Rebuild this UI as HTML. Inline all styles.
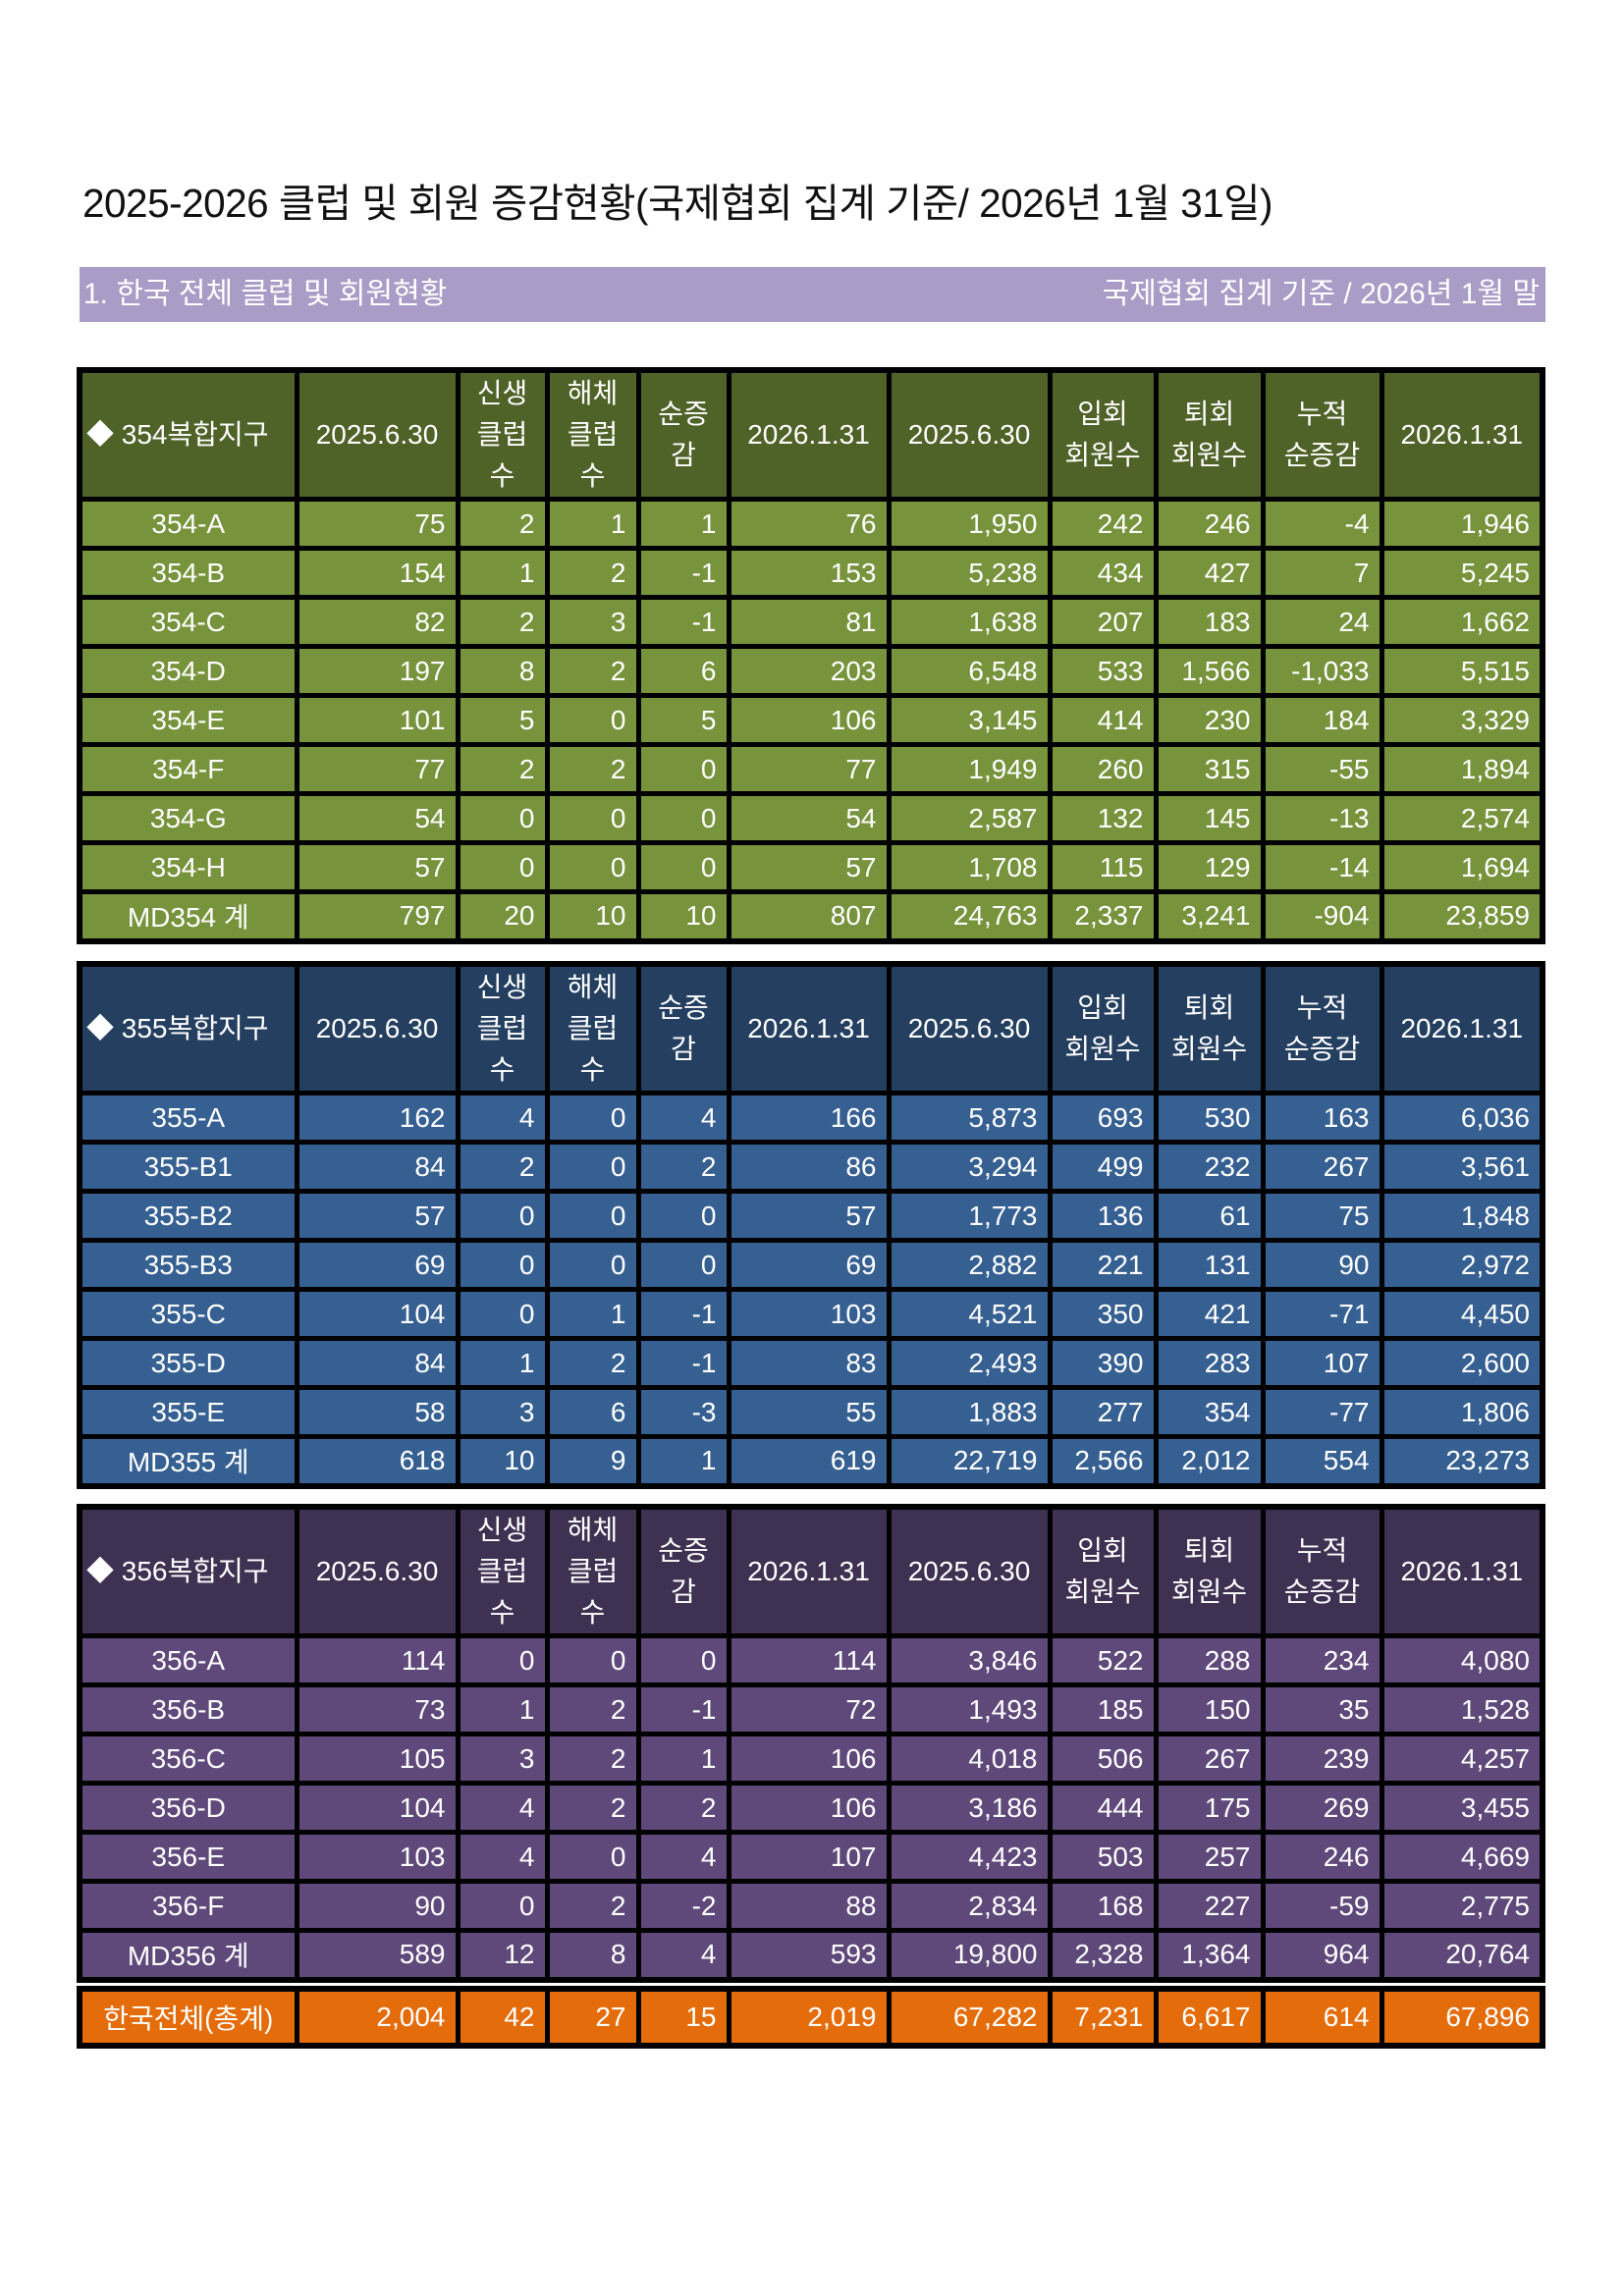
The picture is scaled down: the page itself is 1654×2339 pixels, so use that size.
<!DOCTYPE html>
<html><head><meta charset="utf-8">
<style>
body{margin:0;width:1654px;height:2339px;background:#fff;position:relative;font-family:"Liberation Sans","Noto Sans CJK KR",sans-serif;overflow:hidden}
.title{position:absolute;left:84px;top:174px;font-size:40.5px;color:#111;white-space:nowrap;letter-spacing:-0.5px}
.band{position:absolute;left:81px;top:272px;width:1493px;height:56px;background:#a99cc6;color:#fff;font-size:30px;line-height:56px}
.band .l{position:absolute;left:4px}
.band .r{position:absolute;right:6px}
table{position:absolute;left:78px;width:1490px;border-collapse:collapse;table-layout:fixed;border:6px solid #000;color:#fff;font-size:28px}
td{border:5px solid #000;padding:0 10px;text-align:right;white-space:nowrap;overflow:hidden}
td:first-child{text-align:center}
tr.h td{text-align:center;line-height:42px;padding:0 2px}
tr.h td:first-child{text-align:left;padding-left:4px}
.g tr.h td{background:#4f6228}.g td{background:#77933c}
.b tr.h td{background:#243f60}.b td{background:#366092}
.p tr.h td{background:#3f3151}.p td{background:#5f497a}
.o td{background:#e46c0a}
</style></head><body>
<div class="title">2025-2026 클럽 및 회원 증감현황(국제협회 집계 기준/ 2026년 1월 31일)</div>
<div class="band"><span class="l">1. 한국 전체 클럽 및 회원현황</span><span class="r">국제협회 집계 기준 / 2026년 1월 말</span></div>

<table class="g" style="top:374px">
<colgroup><col style="width:221px"><col style="width:164px"><col style="width:91px"><col style="width:93px"><col style="width:92px"><col style="width:163px"><col style="width:164px"><col style="width:108px"><col style="width:109px"><col style="width:121px"><col style="width:164px"></colgroup>
<tr class="h" style="height:129px"><td>◆ 354복합지구</td><td>2025.6.30</td><td>신생<br>클럽<br>수</td><td>해체<br>클럽<br>수</td><td>순증<br>감</td><td>2026.1.31</td><td>2025.6.30</td><td>입회<br>회원수</td><td>퇴회<br>회원수</td><td>누적<br>순증감</td><td>2026.1.31</td></tr>
<tr style="height:50px"><td>354-A</td><td>75</td><td>2</td><td>1</td><td>1</td><td>76</td><td>1,950</td><td>242</td><td>246</td><td>-4</td><td>1,946</td></tr>
<tr style="height:50px"><td>354-B</td><td>154</td><td>1</td><td>2</td><td>-1</td><td>153</td><td>5,238</td><td>434</td><td>427</td><td>7</td><td>5,245</td></tr>
<tr style="height:50px"><td>354-C</td><td>82</td><td>2</td><td>3</td><td>-1</td><td>81</td><td>1,638</td><td>207</td><td>183</td><td>24</td><td>1,662</td></tr>
<tr style="height:50px"><td>354-D</td><td>197</td><td>8</td><td>2</td><td>6</td><td>203</td><td>6,548</td><td>533</td><td>1,566</td><td>-1,033</td><td>5,515</td></tr>
<tr style="height:50px"><td>354-E</td><td>101</td><td>5</td><td>0</td><td>5</td><td>106</td><td>3,145</td><td>414</td><td>230</td><td>184</td><td>3,329</td></tr>
<tr style="height:50px"><td>354-F</td><td>77</td><td>2</td><td>2</td><td>0</td><td>77</td><td>1,949</td><td>260</td><td>315</td><td>-55</td><td>1,894</td></tr>
<tr style="height:50px"><td>354-G</td><td>54</td><td>0</td><td>0</td><td>0</td><td>54</td><td>2,587</td><td>132</td><td>145</td><td>-13</td><td>2,574</td></tr>
<tr style="height:50px"><td>354-H</td><td>57</td><td>0</td><td>0</td><td>0</td><td>57</td><td>1,708</td><td>115</td><td>129</td><td>-14</td><td>1,694</td></tr>
<tr style="height:50px"><td>MD354 계</td><td>797</td><td>20</td><td>10</td><td>10</td><td>807</td><td>24,763</td><td>2,337</td><td>3,241</td><td>-904</td><td>23,859</td></tr>
</table>

<table class="b" style="top:979px">
<colgroup><col style="width:221px"><col style="width:164px"><col style="width:91px"><col style="width:93px"><col style="width:92px"><col style="width:163px"><col style="width:164px"><col style="width:108px"><col style="width:109px"><col style="width:121px"><col style="width:164px"></colgroup>
<tr class="h" style="height:129px"><td>◆ 355복합지구</td><td>2025.6.30</td><td>신생<br>클럽<br>수</td><td>해체<br>클럽<br>수</td><td>순증<br>감</td><td>2026.1.31</td><td>2025.6.30</td><td>입회<br>회원수</td><td>퇴회<br>회원수</td><td>누적<br>순증감</td><td>2026.1.31</td></tr>
<tr style="height:50px"><td>355-A</td><td>162</td><td>4</td><td>0</td><td>4</td><td>166</td><td>5,873</td><td>693</td><td>530</td><td>163</td><td>6,036</td></tr>
<tr style="height:50px"><td>355-B1</td><td>84</td><td>2</td><td>0</td><td>2</td><td>86</td><td>3,294</td><td>499</td><td>232</td><td>267</td><td>3,561</td></tr>
<tr style="height:50px"><td>355-B2</td><td>57</td><td>0</td><td>0</td><td>0</td><td>57</td><td>1,773</td><td>136</td><td>61</td><td>75</td><td>1,848</td></tr>
<tr style="height:50px"><td>355-B3</td><td>69</td><td>0</td><td>0</td><td>0</td><td>69</td><td>2,882</td><td>221</td><td>131</td><td>90</td><td>2,972</td></tr>
<tr style="height:50px"><td>355-C</td><td>104</td><td>0</td><td>1</td><td>-1</td><td>103</td><td>4,521</td><td>350</td><td>421</td><td>-71</td><td>4,450</td></tr>
<tr style="height:50px"><td>355-D</td><td>84</td><td>1</td><td>2</td><td>-1</td><td>83</td><td>2,493</td><td>390</td><td>283</td><td>107</td><td>2,600</td></tr>
<tr style="height:50px"><td>355-E</td><td>58</td><td>3</td><td>6</td><td>-3</td><td>55</td><td>1,883</td><td>277</td><td>354</td><td>-77</td><td>1,806</td></tr>
<tr style="height:50px"><td>MD355 계</td><td>618</td><td>10</td><td>9</td><td>1</td><td>619</td><td>22,719</td><td>2,566</td><td>2,012</td><td>554</td><td>23,273</td></tr>
</table>

<table class="p" style="top:1532px">
<colgroup><col style="width:221px"><col style="width:164px"><col style="width:91px"><col style="width:93px"><col style="width:92px"><col style="width:163px"><col style="width:164px"><col style="width:108px"><col style="width:109px"><col style="width:121px"><col style="width:164px"></colgroup>
<tr class="h" style="height:129px"><td>◆ 356복합지구</td><td>2025.6.30</td><td>신생<br>클럽<br>수</td><td>해체<br>클럽<br>수</td><td>순증<br>감</td><td>2026.1.31</td><td>2025.6.30</td><td>입회<br>회원수</td><td>퇴회<br>회원수</td><td>누적<br>순증감</td><td>2026.1.31</td></tr>
<tr style="height:50px"><td>356-A</td><td>114</td><td>0</td><td>0</td><td>0</td><td>114</td><td>3,846</td><td>522</td><td>288</td><td>234</td><td>4,080</td></tr>
<tr style="height:50px"><td>356-B</td><td>73</td><td>1</td><td>2</td><td>-1</td><td>72</td><td>1,493</td><td>185</td><td>150</td><td>35</td><td>1,528</td></tr>
<tr style="height:50px"><td>356-C</td><td>105</td><td>3</td><td>2</td><td>1</td><td>106</td><td>4,018</td><td>506</td><td>267</td><td>239</td><td>4,257</td></tr>
<tr style="height:50px"><td>356-D</td><td>104</td><td>4</td><td>2</td><td>2</td><td>106</td><td>3,186</td><td>444</td><td>175</td><td>269</td><td>3,455</td></tr>
<tr style="height:50px"><td>356-E</td><td>103</td><td>4</td><td>0</td><td>4</td><td>107</td><td>4,423</td><td>503</td><td>257</td><td>246</td><td>4,669</td></tr>
<tr style="height:50px"><td>356-F</td><td>90</td><td>0</td><td>2</td><td>-2</td><td>88</td><td>2,834</td><td>168</td><td>227</td><td>-59</td><td>2,775</td></tr>
<tr style="height:50px"><td>MD356 계</td><td>589</td><td>12</td><td>8</td><td>4</td><td>593</td><td>19,800</td><td>2,328</td><td>1,364</td><td>964</td><td>20,764</td></tr>
</table>

<table class="o" style="top:2023px">
<colgroup><col style="width:221px"><col style="width:164px"><col style="width:91px"><col style="width:93px"><col style="width:92px"><col style="width:163px"><col style="width:164px"><col style="width:108px"><col style="width:109px"><col style="width:121px"><col style="width:164px"></colgroup>
<tr style="height:58px"><td>한국전체(총계)</td><td>2,004</td><td>42</td><td>27</td><td>15</td><td>2,019</td><td>67,282</td><td>7,231</td><td>6,617</td><td>614</td><td>67,896</td></tr>
</table>
</body></html>
